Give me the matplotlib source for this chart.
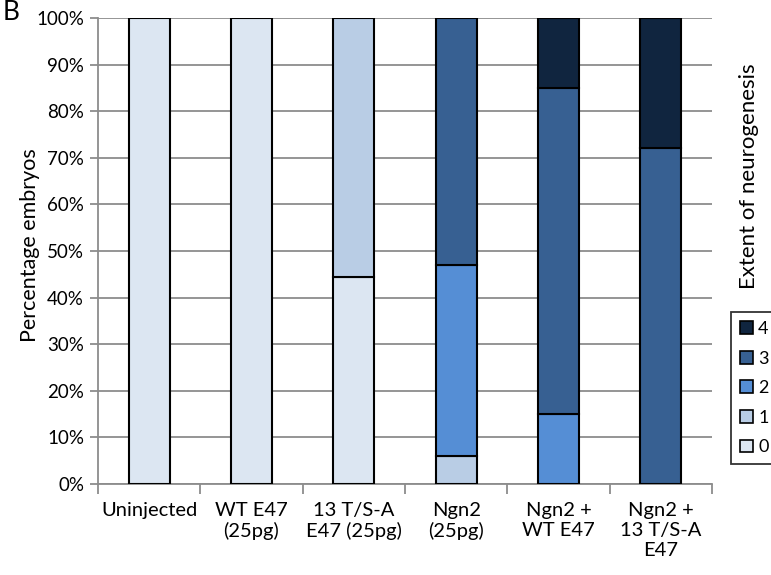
import numpy as np
import matplotlib.pyplot as plt
from matplotlib.patches import Patch

plt.rcParams.update({
    "font.family": ["Lato", "DejaVu Sans"],
    "font.size": 14,
})

# ---- data ------------------------------------------------------------------
groups = ["Uninjected", "WT E47\n(25pg)", "13 T/S-A\nE47 (25pg)", "Ngn2\n(25pg)",
          "Ngn2 +\nWT E47", "Ngn2 +\n13 T/S-A\nE47"]
levels = ["0", "1", "2", "3", "4"]
score0 = [100, 100, 44.5, 0, 0, 0]
score1 = [0, 0, 55.5, 6, 0, 0]
score2 = [0, 0, 0, 41, 15, 0]
score3 = [0, 0, 0, 53, 70, 72]
score4 = [0, 0, 0, 0, 15, 28]
colors = ["#dce6f2", "#b9cde5", "#558ed5", "#376092", "#10253f"]

W, H = 771, 575
fig = plt.figure(figsize=(W / 100, H / 100), dpi=100)
ax = fig.add_axes([98 / W, 1 - 484 / H, (712 - 98) / W, (484 - 18) / H])

x = np.arange(len(groups))
bottom = np.zeros(len(groups))
for vals, col in zip([score0, score1, score2, score3, score4], colors):
    vals = np.array(vals, dtype=float)
    mask = vals > 0
    ax.bar(x[mask], vals[mask], 0.4, bottom=bottom[mask], color=col,
           edgecolor="black", linewidth=1.5, zorder=3)
    bottom += vals

ax.set_xlim(-0.5, len(groups) - 0.5)
ax.set_ylim(0, 100)
ax.set_yticks(np.arange(0, 101, 10))
ax.set_yticklabels([f"{v}%" for v in range(0, 101, 10)], fontsize=13.5)
ax.yaxis.grid(True, color="#8c8c8c", lw=1.3, zorder=0)
ax.set_xticks(x)
ax.set_xticklabels(groups, va="top", linespacing=1.2, fontsize=14.5)
ax.set_xticks(np.arange(-0.5, len(groups), 1), minor=True)
ax.tick_params(axis="x", which="major", length=0, pad=13)
ax.tick_params(axis="x", which="minor", length=7, color="#8c8c8c", width=1.3,
               direction="out")
ax.tick_params(axis="y", length=6, color="#8c8c8c", width=1.3, pad=4)

for side in ["top", "right"]:
    ax.spines[side].set_visible(False)
for side in ["left", "bottom"]:
    ax.spines[side].set_color("#8c8c8c")
    ax.spines[side].set_linewidth(1.3)

ax.set_ylabel("Percentage embryos", fontsize=15.5)
ax.yaxis.set_label_coords(-(98 - 30) / (712 - 98), 0.513)
ax.yaxis.label.set_va("center")

fig.text(749 / W, 1 - 176 / H, "Extent of neurogenesis", rotation=90,
         ha="center", va="center", fontsize=16)
fig.text(0.003, 1 - 20 / H, "B", ha="left", va="baseline", fontsize=19)

handles = [Patch(facecolor=c, edgecolor="black", linewidth=1.2, label=l)
           for c, l in zip(colors, levels)][::-1]
leg = fig.legend(handles=handles, loc="upper left",
                 bbox_to_anchor=(722 / W, 1 - 303 / H), frameon=True,
                 fancybox=False, handlelength=0.7, handleheight=0.7,
                 handletextpad=0.3, labelspacing=0.75, borderpad=0.5,
                 fontsize=13)
leg.get_frame().set_edgecolor("black")
leg.get_frame().set_linewidth(1.3)

fig.savefig("out.png", dpi=100)
